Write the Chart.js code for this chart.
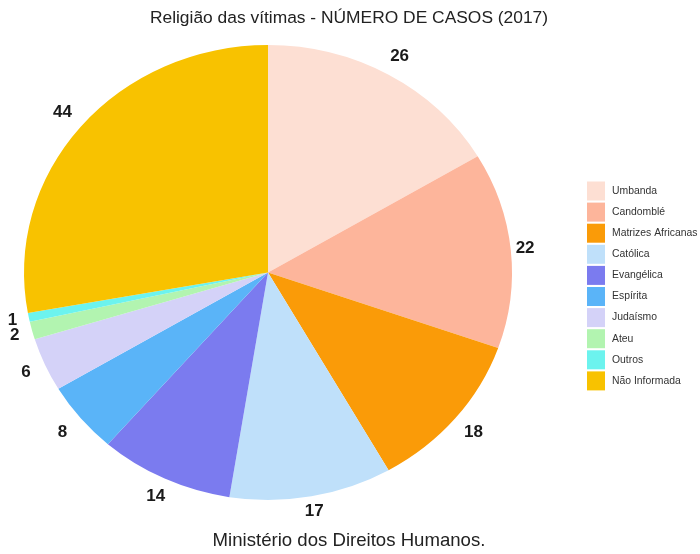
<!DOCTYPE html>
<html>
<head>
<meta charset="utf-8">
<script src="https://cdn.jsdelivr.net/npm/chart.js@4.4.1/dist/chart.umd.min.js"></script>
<style>
  html, body { margin: 0; padding: 0; background: #fff; }
  #wrap { width: 700px; height: 554px; }
</style>
</head>
<body>
<div id="wrap"><canvas id="pie"></canvas></div>
<script>
// dados
const labels = ["Umbanda", "Candomblé", "Matrizes Africanas", "Católica", "Evangélica",
                "Espírita", "Judaísmo", "Ateu", "Outros", "Não Informada"];
const casos = [26, 22, 18, 17, 14, 8, 6, 2, 1, 44];
const cores = ["#fddfd3", "#fdb59b", "#fa9b08", "#bfe0fa", "#7b7bef",
               "#5ab4f8", "#d4d2f8", "#b2f4b0", "#6cf3ee", "#f8c200"];
const titulo = "Religião das vítimas - NÚMERO DE CASOS (2017)";
const fonte = "Ministério dos Direitos Humanos.";

const FONT = "'Liberation Sans', Arial, sans-serif";
const RAIO = 244;
const ESCALA_Y = 227.5 / 244; // a pizza original é um pouco achatada

// achata a pizza e desenha os números, título e legenda
const pizzaPlugin = {
    id: "pizzaAchatada",
    beforeDatasetsDraw(chart) {
        const ctx = chart.ctx;
        const a = chart.chartArea;
        const cy = (a.top + a.bottom) / 2;
        ctx.save();
        ctx.translate(0, cy);
        ctx.scale(1, ESCALA_Y);
        ctx.translate(0, -cy);
    },
    afterDatasetsDraw(chart) {
        const ctx = chart.ctx;
        ctx.restore();

        const arcs = chart.getDatasetMeta(0).data;
        ctx.save();
        ctx.font = "bold 17px " + FONT;
        ctx.fillStyle = "#1a1a1a";
        ctx.textAlign = "center";
        ctx.textBaseline = "middle";
        arcs.forEach((arc, i) => {
            const p = arc.getProps(["x", "y", "startAngle", "endAngle", "outerRadius"], true);
            const meio = (p.startAngle + p.endAngle) / 2;
            // rótulos na diagonal ficam um pouco mais longe
            const r = p.outerRadius + 12 + 12 * Math.abs(Math.sin(2 * meio));
            const x = p.x + Math.cos(meio) * r;
            const y = p.y + Math.sin(meio) * r * ESCALA_Y;
            ctx.fillText(String(casos[i]), x, y);
        });

        // título e fonte
        ctx.fillStyle = "#222";
        ctx.font = "17.4px " + FONT;
        ctx.fillText(titulo, 349, 18);
        ctx.font = "18.6px " + FONT;
        ctx.fillText(fonte, 349, 541);

        // legenda
        ctx.font = "10.4px " + FONT;
        ctx.textAlign = "left";
        labels.forEach((l, i) => {
            const yc = 191 + i * 21.1;
            ctx.fillStyle = cores[i];
            ctx.fillRect(587, yc - 9.5, 18, 19);
            ctx.fillStyle = "#333";
            ctx.fillText(l, 612, yc);
        });
        ctx.restore();
    }
};

new Chart(document.getElementById("pie"), {
    type: "pie",
    plugins: [pizzaPlugin],
    data: {
        labels: labels,
        datasets: [{
            data: casos,
            backgroundColor: cores,
            borderWidth: 0
        }]
    },
    options: {
        responsive: true,
        maintainAspectRatio: false,
        animation: false,
        radius: RAIO,
        layout: { padding: { left: 0, right: 164, top: 20, bottom: 29 } },
        plugins: {
            legend: { display: false },
            tooltip: { enabled: false },
            title: { display: false }
        }
    }
});
</script>
</body>
</html>
